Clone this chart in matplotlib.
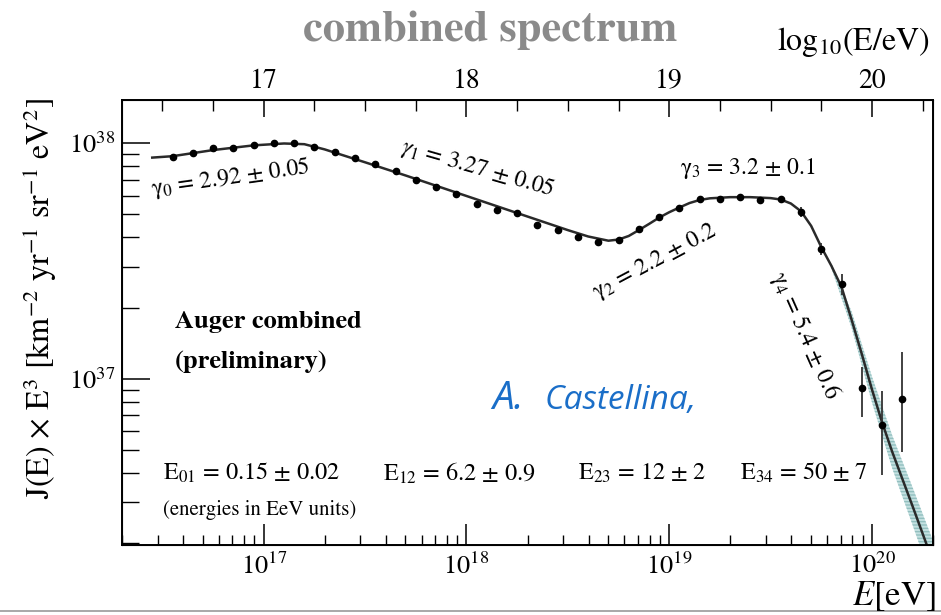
import numpy as np
import matplotlib
matplotlib.use("Agg")
import matplotlib.pyplot as plt
from matplotlib.ticker import LogLocator, NullFormatter, FixedLocator, MultipleLocator
from matplotlib.lines import Line2D

plt.rcParams['font.family'] = ['STIXGeneral', 'DejaVu Sans']
plt.rcParams['mathtext.fontset'] = 'stix'

# binned spectrum, log10(E/eV) and E^3 J(E) [km^-2 yr^-1 sr^-1 eV^2]
logE = [16.55, 16.65, 16.75, 16.85, 16.95, 17.05, 17.15, 17.25, 17.35, 17.45,
        17.55, 17.65, 17.75, 17.85, 17.95, 18.05, 18.15, 18.25, 18.35, 18.45,
        18.55, 18.65, 18.75, 18.85, 18.95, 19.05, 19.15, 19.25, 19.35, 19.45,
        19.55, 19.65, 19.75, 19.85, 19.95, 20.05, 20.15]
flux = [8.79e37, 9.08e37, 9.55e37, 9.60e37, 9.83e37, 1.00e38, 1.00e38, 9.69e37, 9.18e37, 8.65e37,
        8.16e37, 7.64e37, 7.00e37, 6.52e37, 6.08e37, 5.52e37, 5.22e37, 5.09e37, 4.51e37, 4.30e37,
        4.02e37, 3.83e37, 3.89e37, 4.32e37, 4.85e37, 5.34e37, 5.79e37, 5.79e37, 5.92e37, 5.76e37,
        5.81e37, 5.13e37, 3.56e37, 2.53e37, 9.14e36, 6.37e36, 8.19e36]

# error bars of the highest energy bins
err_logE = [19.55, 19.65, 19.75, 19.85, 19.95, 20.05, 20.15]
err_lo = [5.61e37, 4.88e37, 3.35e37, 2.27e37, 6.87e36, 3.91e36, 4.91e36]
err_hi = [6.01e37, 5.38e37, 3.79e37, 2.79e37, 1.127e37, 8.91e36, 1.306e37]

# fitted spectrum
fit_logE = [16.45, 16.55, 16.75, 16.95, 17.1, 17.2, 17.3, 17.5, 17.7, 17.9,
            18.1, 18.3, 18.5, 18.6, 18.7, 18.75, 18.8, 18.85, 18.9, 18.95,
            19.0, 19.05, 19.1, 19.15, 19.2, 19.3, 19.4, 19.5, 19.55, 19.6,
            19.65, 19.7, 19.75, 19.8, 19.85, 19.9, 19.95, 20.0, 20.05, 20.1, 20.2, 20.3]
fit_log = [37.940, 37.946, 37.972, 37.992, 38.000, 37.997, 37.975, 37.920, 37.864, 37.806,
           37.748, 37.690, 37.632, 37.605, 37.587, 37.592, 37.607, 37.632, 37.658, 37.685,
           37.708, 37.728, 37.747, 37.760, 37.767, 37.772, 37.772, 37.768, 37.762, 37.745,
           37.712, 37.650, 37.560, 37.480, 37.390, 37.250, 37.105, 36.955, 36.815, 36.690, 36.460, 36.225]

# uncertainty band at the highest energies
band_logE = [19.8, 19.9, 20.0, 20.1, 20.2, 20.3]
band_half = [0.01, 0.035, 0.055, 0.07, 0.08, 0.09]

fig = plt.figure(figsize=(9.41, 6.15), dpi=100)
ax = fig.add_axes([0.1297, 0.1138, 0.8618, 0.7236])

E = 10 ** np.array(logE)
fitE = 10 ** np.array(fit_logE)
fitF = 10 ** np.array(fit_log)

bE = 10 ** np.array(band_logE)
bc = np.interp(band_logE, fit_logE, fit_log)
ax.fill_between(bE, 10 ** (bc - np.array(band_half)), 10 ** (bc + np.array(band_half)),
                facecolor='#c4e0e0', edgecolor='#93bfbf', hatch='-----', lw=0, zorder=1)

ax.plot(fitE, fitF, color='#2a2a2a', lw=1.8, zorder=2)
eE = 10 ** np.array(err_logE)
ax.vlines(eE, err_lo, err_hi, color='#333333', lw=1.3, zorder=3)
ax.plot(E, flux, 'o', color='black', ms=4.5, zorder=4)

ax.set_xscale('log')
ax.set_yscale('log')
ax.set_xlim(2e16, 2e20)
ax.set_ylim(1.97e36, 1.53e38)

ax.xaxis.set_major_locator(LogLocator(base=10))
ax.xaxis.set_minor_locator(LogLocator(base=10, subs=np.arange(2, 10)))
ax.xaxis.set_minor_formatter(NullFormatter())
ax.yaxis.set_major_locator(LogLocator(base=10))
ax.yaxis.set_minor_locator(LogLocator(base=10, subs=np.arange(2, 10)))
ax.yaxis.set_minor_formatter(NullFormatter())

ax.tick_params(axis='x', which='major', direction='in', length=15, width=1.1, labelsize=19, pad=6, top=False)
ax.tick_params(axis='x', which='minor', direction='in', length=7, width=1.0, top=False)
ax.tick_params(axis='y', which='major', direction='in', length=20, width=1.1, labelsize=19, pad=5, right=False)
ax.tick_params(axis='y', which='minor', direction='in', length=12, width=1.0, right=False)
for s in ax.spines.values():
    s.set_linewidth(1.4)

# log10(E/eV) scale on top
ax2 = ax.twiny()
ax2.set_xlim(np.log10(2e16), np.log10(2e20))
ax2.xaxis.set_major_locator(FixedLocator([17, 18, 19, 20]))
ax2.xaxis.set_minor_locator(MultipleLocator(0.25))
ax2.tick_params(axis='x', which='major', direction='in', length=12, width=1.1, labelsize=20, pad=4)
ax2.tick_params(axis='x', which='minor', direction='in', length=8, width=1.0)
ax2.set_xticklabels(['17', '18', '19', '20'])

tx = dict(transform=ax.transAxes, fontsize=17, ha='center', va='center')
ax.text(0.134, 0.825, 'γ$_0$ = 2.92 ± 0.05', rotation=8, **tx)
ax.text(0.438, 0.847, r'$\gamma_{\mathit{1}}$ = 3.27 ± 0.05', rotation=-16, **tx)
ax.text(0.657, 0.636, 'γ$_2$ = 2.2 ± 0.2', rotation=28, **tx)
ax.text(0.772, 0.847, 'γ$_3$ = 3.2 ± 0.1', **tx)
ax.text(0.842, 0.472, 'γ$_4$ = 5.4 ± 0.6', rotation=-66, **tx)

ax.text(0.065, 0.501, 'Auger combined', transform=ax.transAxes, fontsize=19,
        fontweight='bold', ha='left', va='center')
ax.text(0.065, 0.411, '(preliminary)', transform=ax.transAxes, fontsize=19,
        fontweight='bold', ha='left', va='center')

ex = dict(transform=ax.transAxes, fontsize=17.5, ha='left', va='center')
ax.text(0.0506, 0.162, 'E$_{01}$ = 0.15 ± 0.02', **ex)
ax.text(0.322, 0.162, 'E$_{12}$ = 6.2 ± 0.9', **ex)
ax.text(0.562, 0.162, 'E$_{23}$ = 12 ± 2', **ex)
ax.text(0.762, 0.162, 'E$_{34}$ = 50 ± 7', **ex)
ax.text(0.0506, 0.079, '(energies in EeV units)', transform=ax.transAxes,
        fontsize=15, ha='left', va='center')

fig.text(0.0425, 0.515, 'J(E) × E$^3$ [km$^{-2}$ yr$^{-1}$ sr$^{-1}$ eV$^2$]',
         rotation=90, fontsize=23, ha='center', va='center')
fig.text(0.995, 0.004, '$E$[eV]', fontsize=25, ha='right', va='bottom')
fig.text(0.521, 0.951, 'combined spectrum', fontsize=32, fontweight='bold',
         color='#8a8a8a', ha='center', va='center')
fig.text(0.907, 0.932, 'log$_{10}$(E/eV)', fontsize=23, ha='center', va='center')

blue = '#1a6ec8'
fig.text(0.523, 0.335, 'A.', fontsize=28, color=blue, family='Open Sans', style='italic',
         ha='left', va='baseline')
fig.text(0.579, 0.335, 'Castellina,', fontsize=24, color=blue, family='Open Sans', style='italic',
         ha='left', va='baseline')

fig.add_artist(Line2D([0, 1], [0.006, 0.006], color='#9a9a9a', lw=1.2))

fig.savefig('out.png', dpi=100)
